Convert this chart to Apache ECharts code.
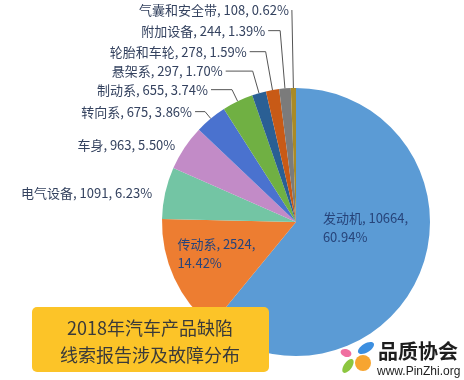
<!DOCTYPE html>
<html><head><meta charset="utf-8">
<script src="https://cdn.jsdelivr.net/npm/echarts@6/dist/echarts.min.js"></script>
<style>html,body{margin:0;padding:0;background:#fff}#c{width:464px;height:380px}</style>
</head><body><div id="c"></div>
<script>
// ---- data ----
const categories = ['发动机','传动系','电气设备','车身','转向系','制动系','悬架系','轮胎和车轮','附加设备','气囊和安全带'];
const counts = [10664, 2524, 1091, 963, 675, 655, 297, 278, 244, 108];
const percents = [60.94, 14.42, 6.23, 5.50, 3.86, 3.74, 1.70, 1.59, 1.39, 0.62];
const titleLines = ['2018年汽车产品缺陷', '线索报告涉及故障分布'];
const logoName = '品质协会';
const logoUrl = 'www.PinZhi.org';

// ---- styles ----
const colors = ['#5b9bd5','#ed7d31','#73c5a4','#c28bc7','#4a72cf','#70b043','#2a5f94','#c85a16','#7b7b7b','#a98a26'];
const lineLen  = [0, 0, 0, 5, 9, 13, 23, 39, 58, 78];
const lineLen2 = [0, 0, 10, 2, 10, 21, 27, 16, 12, 0];
const showLine = [false, false, false, false, true, true, true, true, true, true];
const insideShift = [[-39, -18], [-55, 2]];
const FONT = '"Noto Sans CJK SC", "Noto Sans", sans-serif';

const data = categories.map((n, i) => {
  const item = { name: n, value: counts[i], itemStyle: { color: colors[i] } };
  if (i < 2) {
    item.label = { position: 'inside', color: '#27447a', lineHeight: 19 };
  } else {
    item.label = { position: 'outside' };
    item.labelLine = { show: showLine[i], length: lineLen[i], length2: lineLen2[i] };
  }
  return item;
});

const chart = echarts.init(document.getElementById('c'), null, { renderer: 'canvas' });
chart.setOption({
  animation: false,
  backgroundColor: '#fff',
  series: [{
    type: 'pie',
    z: 1,
    center: [296, 222],
    radius: 134,
    startAngle: 90,
    clockwise: true,
    avoidLabelOverlap: false,
    emphasis: { disabled: true },
    data: data,
    label: {
      fontSize: 13,
      fontFamily: FONT,
      color: '#34425f',
      distanceToLabelLine: 3,
      formatter: p => {
        const i = p.dataIndex;
        const pct = percents[i].toFixed(2) + '%';
        return i < 2 ? `${categories[i]}, ${counts[i]},\n${pct}` : `${categories[i]}, ${counts[i]}, ${pct}`;
      }
    },
    labelLine: { lineStyle: { color: '#555', width: 1 } },
    labelLayout: function (params) {
      const i = params.dataIndex;
      if (i < 2) {
        return { align: 'left', dx: insideShift[i][0], dy: insideShift[i][1] };
      }
      return {};
    }
  }],
  graphic: [
    { type: 'rect', z: 100, shape: { x: 32, y: 307, width: 237, height: 65, r: 5 }, style: { fill: '#fcc428' } },
    { type: 'text', z: 101, x: 150, y: 328, style: { text: titleLines[0], fill: '#3a3a3a', font: '18px ' + FONT, textAlign: 'center', textVerticalAlign: 'middle' } },
    { type: 'text', z: 101, x: 150, y: 355, style: { text: titleLines[1], fill: '#3a3a3a', font: '18px ' + FONT, textAlign: 'center', textVerticalAlign: 'middle' } },
    { type: 'ellipse', z: 100, x: 346, y: 353, rotation: -0.3, shape: { cx: 0, cy: 0, rx: 5.5, ry: 3.8 }, style: { fill: '#f06fa0' } },
    { type: 'ellipse', z: 100, x: 366, y: 348, rotation: 0.55, shape: { cx: 0, cy: 0, rx: 9, ry: 4.5 }, style: { fill: '#3d8fe0' } },
    { type: 'ellipse', z: 100, x: 348, y: 366, rotation: 0.95, shape: { cx: 0, cy: 0, rx: 8, ry: 4 }, style: { fill: '#8cc63f' } },
    { type: 'circle', z: 100, shape: { cx: 363, cy: 363, r: 8 }, style: { fill: '#f7a530' } },
    { type: 'text', z: 101, x: 378, y: 351, style: { text: logoName, fill: '#1e1e1e', font: 'bold 20px ' + FONT, textAlign: 'left', textVerticalAlign: 'middle' } },
    { type: 'text', z: 101, x: 377, y: 372, style: { text: logoUrl, fill: '#1e1e1e', font: '12px "Liberation Sans", Arial, sans-serif', textAlign: 'left', textVerticalAlign: 'middle' } }
  ]
});
</script>
</body></html>
